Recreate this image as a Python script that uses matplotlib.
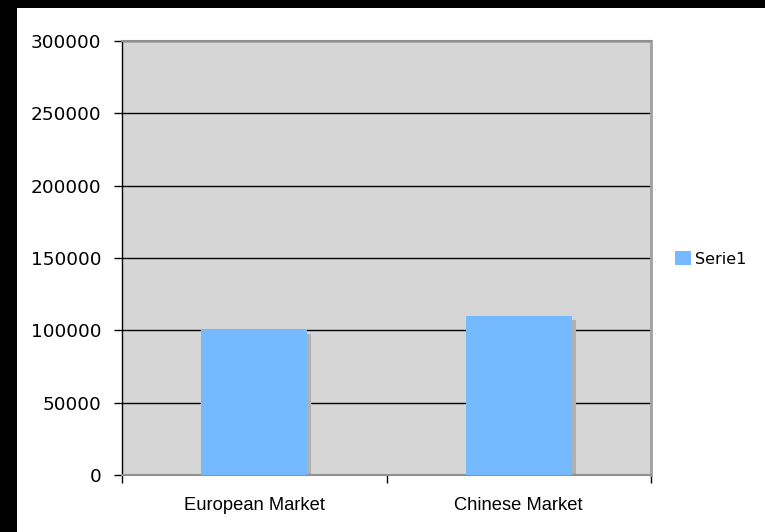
import matplotlib
matplotlib.use("Agg")
import matplotlib.pyplot as plt
from matplotlib.patches import Rectangle
import numpy as np

categories = ["European Market", "Chinese Market"]
values = [100000, 110000]
series_name = "Serie1"
yticks = [0, 50000, 100000, 150000, 200000, 250000, 300000]

W, H = 765, 532
fig = plt.figure(figsize=(W/100, H/100), dpi=100)
fig.patch.set_facecolor("white")

# black frame strips (top and left)
fig.patches.append(Rectangle((0, 1 - 8/H), 1, 8/H, transform=fig.transFigure,
                             facecolor="black", edgecolor="none", zorder=0))
fig.patches.append(Rectangle((0, 0), 17/W, 1, transform=fig.transFigure,
                             facecolor="black", edgecolor="none", zorder=0))

left, right, top, bottom = 122, 651, 41, 475
ax = fig.add_axes([left/W, 1 - bottom/H, (right-left)/W, (bottom-top)/H])
ax.set_facecolor("#d6d6d6")

x = np.arange(len(categories))
bw = 0.4
# shadows
ax.bar(x + 0.016, values, width=bw, bottom=-2600, color="#b0b0b0", zorder=2)
ax.bar(x, values, width=bw, color="#75b9ff", zorder=3, label=series_name)

ax.set_xlim(-0.5, len(categories) - 0.5)
ax.set_ylim(0, 300000)
ax.set_yticks(yticks)
ax.set_yticklabels([str(v) for v in yticks], fontsize=13.3, family="DejaVu Sans")
ax.yaxis.grid(True, color="black", linewidth=1.0)
ax.set_axisbelow(True)

ax.set_xticks(x)
ax.set_xticklabels(categories, fontsize=13.2, family="Liberation Sans")
ax.tick_params(axis="x", length=0, pad=16)
ax.set_xticks([-0.5, 0.5, 1.5], minor=True)
ax.tick_params(axis="x", which="minor", length=6, color="black", width=1, direction="out")
ax.tick_params(axis="y", length=6, color="black", width=1, direction="out", pad=9)

ax.spines["left"].set_color("black")
ax.spines["left"].set_linewidth(1)
ax.spines["bottom"].set_color("#909090")
ax.spines["bottom"].set_linewidth(1.5)
ax.spines["top"].set_color("#909090")
ax.spines["top"].set_linewidth(1.5)
ax.spines["right"].set_color("#a0a0a0")
ax.spines["right"].set_linewidth(2)

handles, labels = ax.get_legend_handles_labels()
leg = fig.legend(handles, labels, loc="center left",
                 bbox_to_anchor=(675/W, 1 - 259/H), frameon=False,
                 prop={"family": "DejaVu Sans", "size": 11.5},
                 handlelength=1.0, handleheight=1.0, handletextpad=0.25,
                 borderaxespad=0, borderpad=0)

fig.savefig("out.png", dpi=100, facecolor="white")
